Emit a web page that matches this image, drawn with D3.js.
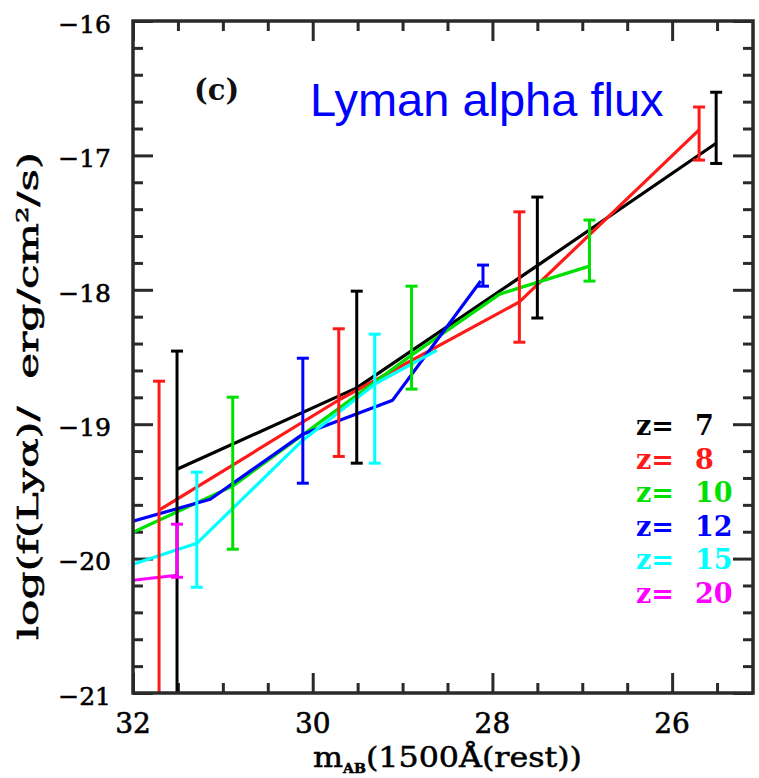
<!DOCTYPE html>
<html><head><meta charset="utf-8">
<script src="https://cdn.jsdelivr.net/npm/d3@7"></script>
<style>body{margin:0;background:#fff}svg{display:block}</style>
</head><body>
<svg id="c" width="759" height="778"></svg>
<script>
// ---- data ----
const xTicksMajor = [32, 30, 28, 26];
const yTicksMajor = [-16, -17, -18, -19, -20, -21];
const legendLabels = ["7", "8", "10", "12", "15", "20"];
const seriesColors = ["#000000", "#ff1a1a", "#00e000", "#0000ff", "#00ffff", "#ff00ff"];

// z = 7
const z7LineM = [31.51, 29.51, 27.50, 25.51];
const z7LineF = [-19.335, -18.73, -17.82, -16.91];
const z7ErrM  = [31.51, 29.51, 27.50, 25.51];
const z7ErrHi = [-18.456, -18.01, -17.31, -16.53];
const z7ErrLo = [-21.5, -19.29, -18.21, -17.06];
// z = 8
const z8LineM = [31.71, 29.71, 27.70, 25.70];
const z8LineF = [-19.64, -18.82, -18.09, -16.81];
const z8ErrM  = [31.71, 29.71, 27.70, 25.70];
const z8ErrHi = [-18.68, -18.29, -17.42, -16.64];
const z8ErrLo = [-21.5, -19.24, -18.39, -17.035];
// z = 10
const z10LineM = [32.0, 30.89, 28.90, 27.92, 26.92];
const z10LineF = [-19.804, -19.461, -18.486, -18.032, -17.824];
const z10ErrM  = [30.89, 28.90, 26.92];
const z10ErrHi = [-18.799, -17.973, -17.481];
const z10ErrLo = [-19.930, -18.739, -17.935];
// z = 12
const z12LineM = [32.0, 31.14, 30.11, 29.11, 28.13];
const z12LineF = [-19.722, -19.558, -19.074, -18.821, -17.935];
const z12ErrM  = [30.11, 28.105];
const z12ErrHi = [-18.509, -17.816];
const z12ErrLo = [-19.439, -17.973];
// z = 15
const z15LineM = [32.0, 31.29, 30.11, 29.31, 28.62];
const z15LineF = [-20.042, -19.886, -19.119, -18.702, -18.45];
const z15ErrM  = [31.29, 29.31];
const z15ErrHi = [-19.357, -18.330];
const z15ErrLo = [-20.213, -19.290];
// z = 20
const z20LineM = [32.0, 31.51];
const z20LineF = [-20.161, -20.124];
const z20ErrM  = [31.51];
const z20ErrHi = [-19.744];
const z20ErrLo = [-20.139];

const lineM = [z7LineM, z8LineM, z10LineM, z12LineM, z15LineM, z20LineM];
const lineF = [z7LineF, z8LineF, z10LineF, z12LineF, z15LineF, z20LineF];
const errM  = [z7ErrM, z8ErrM, z10ErrM, z12ErrM, z15ErrM, z20ErrM];
const errHi = [z7ErrHi, z8ErrHi, z10ErrHi, z12ErrHi, z15ErrHi, z20ErrHi];
const errLo = [z7ErrLo, z8ErrLo, z10ErrLo, z12ErrLo, z15ErrLo, z20ErrLo];

// ---- layout ----
const L = 133, R = 753, T = 21, B = 693;
const svg = d3.select("#c");
const x = d3.scaleLinear().domain([32, 25.1]).range([L, R]);
const y = d3.scaleLinear().domain([-21, -16]).range([B, T]);

const axisColor = "#2a2a2a";
const xMinor = d3.range(32, 25.1, -0.5).filter(v => Math.abs(v - Math.round(v / 2) * 2) > 1e-6);
const yMinor = d3.range(-16, -21.001, -0.2).map(v => +v.toFixed(1)).filter(v => Math.abs(v - Math.round(v)) > 1e-6);

function styleAxis(g) {
  g.select(".domain").remove();
  g.selectAll("line").attr("stroke", axisColor).attr("stroke-width", 3);
  g.selectAll("text").remove();
}
svg.append("g").attr("transform", `translate(0,${B})`).call(d3.axisBottom(x).tickValues(xTicksMajor).tickSize(-20)).call(styleAxis);
svg.append("g").attr("transform", `translate(0,${B})`).call(d3.axisBottom(x).tickValues(xMinor).tickSize(-10)).call(styleAxis);
svg.append("g").attr("transform", `translate(0,${T})`).call(d3.axisTop(x).tickValues(xTicksMajor).tickSize(-20)).call(styleAxis);
svg.append("g").attr("transform", `translate(0,${T})`).call(d3.axisTop(x).tickValues(xMinor).tickSize(-10)).call(styleAxis);
svg.append("g").attr("transform", `translate(${L},0)`).call(d3.axisLeft(y).tickValues(yTicksMajor).tickSize(-20)).call(styleAxis);
svg.append("g").attr("transform", `translate(${L},0)`).call(d3.axisLeft(y).tickValues(yMinor).tickSize(-10)).call(styleAxis);
svg.append("g").attr("transform", `translate(${R},0)`).call(d3.axisRight(y).tickValues(yTicksMajor).tickSize(-20)).call(styleAxis);
svg.append("g").attr("transform", `translate(${R},0)`).call(d3.axisRight(y).tickValues(yMinor).tickSize(-10)).call(styleAxis);

svg.append("clipPath").attr("id", "clip").append("rect").attr("x", L).attr("y", T).attr("width", R - L).attr("height", B - T);
const plot = svg.append("g").attr("clip-path", "url(#clip)");

const line = d3.line().x(d => x(d[0])).y(d => y(d[1]));
const order = [0, 1, 2, 3, 4, 5];
order.forEach(i => {
  const pts = lineM[i].map((m, k) => [m, lineF[i][k]]);
  plot.append("path").attr("d", line(pts)).attr("fill", "none")
    .attr("stroke", seriesColors[i]).attr("stroke-width", 3.2).attr("stroke-linejoin", "round");
});
order.forEach(i => {
  const col = seriesColors[i];
  errM[i].forEach((m, k) => {
    const cx = x(m), yh = y(errHi[i][k]), yl = y(errLo[i][k]);
    const g = plot.append("g").attr("stroke", col).attr("stroke-width", 3);
    g.append("line").attr("x1", cx).attr("x2", cx).attr("y1", yh).attr("y2", yl);
    g.append("line").attr("x1", cx - 6).attr("x2", cx + 6).attr("y1", yh).attr("y2", yh);
    g.append("line").attr("x1", cx - 6).attr("x2", cx + 6).attr("y1", yl).attr("y2", yl);
  });
});

svg.append("rect").attr("x", L).attr("y", T).attr("width", R - L).attr("height", B - T)
  .attr("fill", "none").attr("stroke", axisColor).attr("stroke-width", 3.5);

const serif = "'DejaVu Serif', serif";
svg.append("g").selectAll("text").data(yTicksMajor).join("text")
  .attr("x", 111).attr("y", d => y(d) + 3).attr("dy", "0.35em")
  .attr("text-anchor", "end").attr("font-family", serif).attr("font-size", 25)
  .attr("fill", "#000").attr("stroke", "#000").attr("stroke-width", 0.6)
  .text(d => "\u2212" + Math.abs(d));
svg.append("g").selectAll("text").data(xTicksMajor).join("text")
  .attr("x", d => x(d)).attr("y", 733)
  .attr("text-anchor", "middle").attr("font-family", serif).attr("font-size", 28)
  .attr("fill", "#000").attr("stroke", "#000").attr("stroke-width", 0.6)
  .text(d => d);

const xt = svg.append("text").attr("x", 313).attr("y", 767).attr("font-family", serif).attr("font-size", 27)
  .attr("fill", "#000").attr("stroke", "#000").attr("stroke-width", 0.5)
  .attr("textLength", 269).attr("lengthAdjust", "spacingAndGlyphs");
xt.append("tspan").text("m");
xt.append("tspan").attr("font-size", 12).attr("dy", 6).attr("font-weight", "bold").text("AB");
xt.append("tspan").attr("dy", -6).text("(1500\u00C5(rest))");

const yt = svg.append("text").attr("transform", "translate(38,396) rotate(-90)")
  .attr("text-anchor", "middle").attr("font-family", serif).attr("font-size", 27)
  .attr("fill", "#000").attr("stroke", "#000").attr("stroke-width", 0.6)
  .attr("textLength", 488).attr("lengthAdjust", "spacingAndGlyphs");
yt.append("tspan").text("log(f(Ly\u03B1)/\u00A0\u00A0erg/cm");
yt.append("tspan").attr("font-size", 16).attr("dy", -10).text("2");
yt.append("tspan").attr("dy", 10).text("/s)");

svg.append("text").attr("x", 194).attr("y", 100).attr("font-family", serif).attr("font-weight", "bold")
  .attr("font-size", 29).attr("fill", "#111").text("(c)");

svg.append("text").attr("x", 310).attr("y", 116).attr("font-family", "'Liberation Sans', Arial, sans-serif")
  .attr("font-size", 47).attr("fill", "#0000ff").text("Lyman alpha flux");

const lg = svg.append("g");
legendLabels.forEach((lab, i) => {
  const by = 435 + i * 33.6;
  lg.append("text").attr("x", 636).attr("y", by).attr("font-family", serif).attr("font-weight", "bold")
    .attr("font-size", 27).attr("fill", seriesColors[i]).text("z=");
  lg.append("text").attr("x", 695).attr("y", by).attr("font-family", serif).attr("font-weight", "bold")
    .attr("font-size", 27).attr("fill", seriesColors[i]).text(lab);
});
</script>
</body></html>
